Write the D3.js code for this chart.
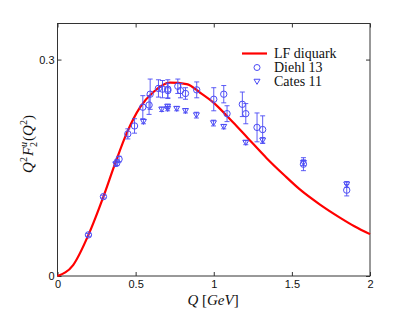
<!DOCTYPE html>
<html>
<head>
<meta charset="utf-8">
<script src="https://cdn.jsdelivr.net/npm/d3@7"></script>
<style>
  body { margin: 0; background: #fff; }
  svg { display: block; }
</style>
</head>
<body>
<div id="chart"></div>
<script>
const width = 409;
const height = 312;
const blue = "#4b4bf5";
const red = "#ff0000";

// LF diquark curve
const curveQ = [0, 0.1, 0.2, 0.294, 0.369, 0.443, 0.529, 0.614, 0.72, 0.827, 0.913, 1.0, 1.123, 1.21, 1.34, 1.45, 1.551, 1.68, 1.807, 1.9, 2.0];
const curveF = [0, 0.0152, 0.058, 0.11, 0.156, 0.198, 0.234, 0.255, 0.268, 0.266, 0.254, 0.24, 0.213, 0.193, 0.163, 0.14, 0.12, 0.099, 0.081, 0.069, 0.058];

// Diehl 13 (circles)
const diehlQ = [0.198, 0.294, 0.38, 0.394, 0.45, 0.493, 0.546, 0.586, 0.593, 0.646, 0.672, 0.706, 0.706, 0.77, 0.787, 0.819, 0.891, 1.0, 1.064, 1.085, 1.183, 1.205, 1.277, 1.313, 1.574, 1.851];
const diehlF = [0.057, 0.11, 0.157, 0.162, 0.197, 0.208, 0.234, 0.237, 0.252, 0.26, 0.259, 0.259, 0.257, 0.263, 0.257, 0.253, 0.258, 0.245, 0.252, 0.225, 0.238, 0.225, 0.206, 0.203, 0.155, 0.119];
const diehlErr = [0.002, 0.002, 0.004, 0.004, 0.007, 0.01, 0.016, 0.013, 0.021, 0.012, 0.012, 0.013, 0.01, 0.01, 0.01, 0.008, 0.011, 0.016, 0.012, 0.011, 0.017, 0.014, 0.02, 0.019, 0.009, 0.008];

// Cates 11 (triangles)
const catesQ = [0.373, 0.55, 0.667, 0.705, 0.705, 0.763, 0.819, 0.889, 0.998, 1.064, 1.205, 1.313, 1.574, 1.851];
const catesF = [0.155, 0.214, 0.231, 0.232, 0.235, 0.232, 0.229, 0.223, 0.212, 0.207, 0.185, 0.188, 0.157, 0.127];
const catesErr = [0.003, 0.003, 0.003, 0.003, 0.003, 0.003, 0.003, 0.004, 0.004, 0.003, 0.003, 0.004, 0.004, 0.004];

const xTicks = [0, 0.5, 1, 1.5, 2];
const yTicks = [0, 0.3];
const legendNames = ["LF diquark", "Diehl 13", "Cates 11"];

const margin = { left: 57.5, right: 39, top: 23.5, bottom: 36 };
const x = d3.scaleLinear().domain([0, 2]).range([margin.left, width - margin.right]);
const y = d3.scaleLinear().domain([0, 0.35]).range([height - margin.bottom, margin.top]);

const svg = d3.select("#chart").append("svg")
  .attr("width", width)
  .attr("height", height);

const tickFont = "'Liberation Sans', Arial, sans-serif";
const mathFont = "'Liberation Serif', 'Times New Roman', serif";

// axes (ticks pointing inward)
svg.append("g")
  .attr("transform", `translate(0,${y(0)})`)
  .call(d3.axisBottom(x).tickValues(xTicks).tickSize(-4).tickPadding(4)
    .tickFormat(d3.format("")));
const yAxis = svg.append("g")
  .attr("transform", `translate(${x(0)},0)`)
  .call(d3.axisLeft(y).tickValues(yTicks).tickSize(-4).tickPadding(4)
    .tickFormat(d => d === 0 ? "0" : d3.format(".1f")(d)));
svg.append("g")
  .attr("transform", `translate(${x(2)},0)`)
  .call(d3.axisRight(y).tickValues(yTicks).tickSize(-4).tickFormat(""));
svg.append("g")
  .attr("transform", `translate(0,${y(0.35)})`)
  .call(d3.axisTop(x).tickValues(xTicks).tickSize(-4).tickFormat(""));

svg.selectAll(".domain").remove();
svg.selectAll(".tick line").attr("stroke", "#333");
svg.selectAll(".tick text")
  .style("font-family", tickFont)
  .style("font-size", "11px")
  .attr("fill", "#111");
yAxis.selectAll(".tick text").attr("dx", "1");

svg.append("rect")
  .attr("x", x(0)).attr("y", y(0.35))
  .attr("width", x(2) - x(0)).attr("height", y(0) - y(0.35))
  .attr("fill", "none").attr("stroke", "#333").attr("stroke-width", 1);

const plot = svg.append("g");

// model curve
const curveData = curveQ.map((q, i) => [q, curveF[i]]);
plot.append("path")
  .datum(curveData)
  .attr("d", d3.line().x(d => x(d[0])).y(d => y(d[1])).curve(d3.curveMonotoneX))
  .attr("fill", "none")
  .attr("stroke", red)
  .attr("stroke-width", 2.2);

const triangle = (cx, cy, s) =>
  `M${cx - s},${cy - s * 0.75}L${cx + s},${cy - s * 0.75}L${cx},${cy + s * 0.95}Z`;

const drawErrors = (qs, fs, errs) => {
  const g = plot.append("g").attr("stroke", blue).attr("stroke-width", 0.9);
  qs.forEach((q, i) => {
    const cx = x(q);
    const y0 = y(fs[i] - errs[i]);
    const y1 = y(fs[i] + errs[i]);
    g.append("line").attr("x1", cx).attr("x2", cx).attr("y1", y0).attr("y2", y1);
    g.append("line").attr("x1", cx - 2.5).attr("x2", cx + 2.5).attr("y1", y0).attr("y2", y0);
    g.append("line").attr("x1", cx - 2.5).attr("x2", cx + 2.5).attr("y1", y1).attr("y2", y1);
  });
};

drawErrors(diehlQ, diehlF, diehlErr);
drawErrors(catesQ, catesF, catesErr);

plot.selectAll(".diehl")
  .data(diehlQ.map((q, i) => [q, diehlF[i]]))
  .enter()
  .append("circle")
  .attr("class", "diehl")
  .attr("cx", d => x(d[0]))
  .attr("cy", d => y(d[1]))
  .attr("r", 3.2)
  .attr("fill", "none")
  .attr("stroke", blue)
  .attr("stroke-width", 1);

plot.selectAll(".cates")
  .data(catesQ.map((q, i) => [q, catesF[i]]))
  .enter()
  .append("path")
  .attr("class", "cates")
  .attr("d", d => triangle(x(d[0]), y(d[1]), 3))
  .attr("fill", "none")
  .attr("stroke", blue)
  .attr("stroke-width", 1);

// legend
const legend = svg.append("g");
const lx = 242, ly = 53.5, lstep = 14;
legend.append("line")
  .attr("x1", lx).attr("x2", lx + 25).attr("y1", ly).attr("y2", ly)
  .attr("stroke", red).attr("stroke-width", 2.2);
legend.append("circle")
  .attr("cx", lx + 15).attr("cy", ly + lstep).attr("r", 3)
  .attr("fill", "none").attr("stroke", blue);
legend.append("path")
  .attr("d", triangle(lx + 15, ly + 2 * lstep, 3))
  .attr("fill", "none").attr("stroke", blue);
legend.selectAll("text")
  .data(legendNames)
  .enter()
  .append("text")
  .attr("x", lx + 32)
  .attr("y", (d, i) => ly + i * lstep + 4.5)
  .style("font-family", mathFont)
  .style("font-size", "14px")
  .attr("fill", "#111")
  .text(d => d);

// x label
const xl = svg.append("text")
  .attr("x", 213)
  .attr("y", 305)
  .attr("text-anchor", "middle")
  .style("font-family", mathFont)
  .style("font-size", "15px")
  .attr("fill", "#111");
xl.append("tspan").style("font-style", "italic").text("Q");
xl.append("tspan").text(" [");
xl.append("tspan").style("font-style", "italic").text("GeV");
xl.append("tspan").text("]");

// y label
const yl = svg.append("text")
  .attr("transform", "translate(33,144) rotate(-90)")
  .attr("text-anchor", "middle")
  .style("font-family", mathFont)
  .style("font-size", "15px")
  .attr("fill", "#111");
yl.append("tspan").style("font-style", "italic").text("Q");
yl.append("tspan").attr("font-size", "10px").attr("dy", "-6").text("2");
yl.append("tspan").style("font-style", "italic").attr("dy", "6").attr("dx", "1").text("F");
yl.append("tspan").attr("font-size", "10px").style("font-style", "italic").attr("dy", "-6").text("u");
yl.append("tspan").attr("font-size", "10px").attr("dy", "10").attr("dx", "-5").text("2");
yl.append("tspan").attr("dy", "-4").attr("dx", "1").text("(");
yl.append("tspan").style("font-style", "italic").text("Q");
yl.append("tspan").attr("font-size", "10px").attr("dy", "-6").text("2");
yl.append("tspan").attr("dy", "6").text(")");
</script>
</body>
</html>
